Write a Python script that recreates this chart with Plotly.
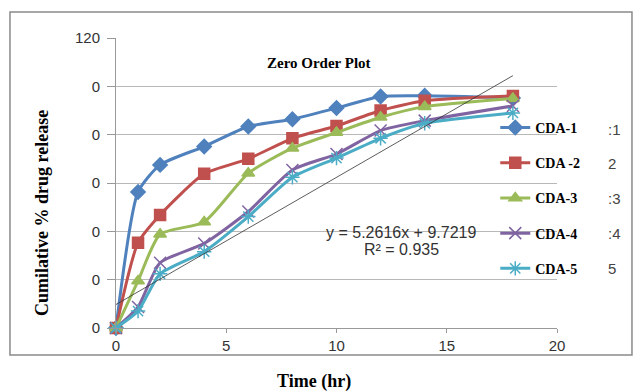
import plotly.graph_objects as go

time_hr = [0, 1, 2, 4, 6, 8, 10, 12, 14, 18]
cda1 = [0, 56.3, 67.5, 75.1, 83.4, 86.4, 91.0, 95.8, 96.1, 95.2]
cda2 = [0, 35.3, 46.8, 63.8, 70.0, 78.5, 83.6, 90.0, 94.0, 96.0]
cda3 = [0, 19.5, 38.8, 43.9, 64.0, 74.4, 80.9, 87.2, 91.6, 95.0]
cda4 = [0, 8.7, 27.0, 35.0, 48.2, 65.4, 72.0, 81.7, 85.8, 91.9]
cda5 = [0, 7.0, 22.4, 31.6, 46.1, 62.4, 70.3, 78.5, 84.7, 89.0]
series_names = ["CDA-1", "CDA -2", "CDA-3", "CDA-4", "CDA-5"]
legend_suffix = [":1", "2", ":3", ":4", "5"]
trend_slope = 5.2616
trend_intercept = 9.7219
trend_r2 = 0.935
trend_x = [0, 18]
y_tickvals = [0, 20, 40, 60, 80, 100, 120]
y_ticktext = ["0", "0", "0", "0", "0", "0", "120"]
x_tickvals = [0, 5, 10, 15, 20]

colors = ["#4F81BD", "#C0504D", "#9BBB59", "#8064A2", "#4BACC6"]
symbols = ["diamond", "square", "triangle-up", "x-thin-open", "asterisk-open"]
sizes = [11, 11, 11, 12, 12]
data = [cda1, cda2, cda3, cda4, cda5]

fig = go.Figure()
for i, (name, vals) in enumerate(zip(series_names, data)):
    fig.add_trace(go.Scatter(
        x=time_hr, y=vals, name=name, mode="lines+markers",
        line=dict(color=colors[i], width=3, shape="spline", smoothing=0.6),
        marker=dict(symbol=symbols[i], size=sizes[i], color=colors[i],
                    line=dict(color=colors[i], width=1.5)),
        legendgroup=name, cliponaxis=False,
    ))

trend_y = [trend_slope * x + trend_intercept for x in trend_x]
fig.add_trace(go.Scatter(x=trend_x, y=trend_y, mode="lines",
                         line=dict(color="#333333", width=0.8),
                         showlegend=False, hoverinfo="skip"))

serif = "Liberation Serif"
sans = "Liberation Sans"

fig.update_layout(
    width=641, height=392,
    margin=dict(l=116, r=84, t=38, b=64),
    paper_bgcolor="white", plot_bgcolor="white",
    showlegend=True,
    legend=dict(x=0.86, y=0.745, xanchor="left", yanchor="top",
                bgcolor="rgba(0,0,0,0)", tracegroupgap=14,
                font=dict(family=serif, size=14, color="black", weight="bold"),
                itemwidth=30),
    xaxis=dict(range=[0, 20], tickvals=x_tickvals, showgrid=False,
               showline=True, linecolor="#999999", linewidth=1,
               ticks="outside", ticklen=4, tickcolor="#999999",
               tickfont=dict(family=sans, size=15, color="#333333"),
               zeroline=False),
    yaxis=dict(range=[0, 120], tickvals=y_tickvals, ticktext=y_ticktext,
               showgrid=True, gridcolor="#b8b8b8", gridwidth=1,
               showline=True, linecolor="#999999", linewidth=1,
               ticks="outside", ticklen=8, tickcolor="#999999",
               ticklabelstandoff=4,
               tickfont=dict(family=sans, size=15, color="#333333"),
               zeroline=False),
)

fig.add_shape(type="rect", xref="paper", yref="paper",
              x0=-0.2404, x1=1.170, y0=-0.093, y1=1.0897,
              line=dict(color="#8a8a8a", width=1.5), layer="below")

def note(text, px, py, size, family, color, **kw):
    fig.add_annotation(text=text, xref="paper", yref="paper",
                       x=(px - 116) / 441, y=(328 - py) / 290,
                       yanchor="middle", showarrow=False,
                       font=dict(family=family, size=size, color=color), **kw)

note("<b>Zero Order Plot</b>", 319, 63, 15, serif, "black")
note("<b>Cumilative % drug release</b>", 30, 213, 18, serif, "black", textangle=-90)
note("<b>Time (hr)</b>", 314, 381, 18, serif, "black")
note(f"y = {trend_slope}x + {trend_intercept}", 401, 232, 16, sans, "#333333")
note(f"R² = {trend_r2}", 401, 249, 16, sans, "#333333")
for i, s in enumerate(legend_suffix):
    note(s, 606, 129 + 34.8 * i, 15, sans, "#444444", xanchor="left")

fig.write_html("out.html")
